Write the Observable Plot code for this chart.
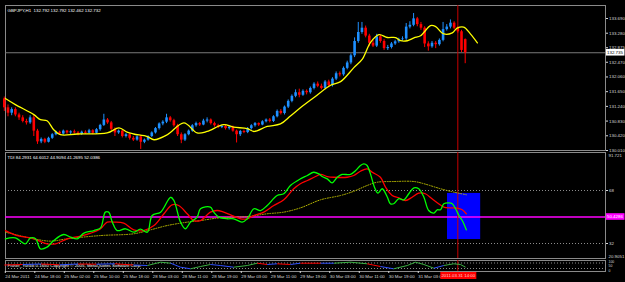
<!DOCTYPE html>
<html><head><meta charset="utf-8">
<script src="https://cdn.jsdelivr.net/npm/d3@7"></script>
<script src="https://cdn.jsdelivr.net/npm/@observablehq/plot@0.6"></script>
<style>
html,body{margin:0;padding:0;background:#000;}
#chart{position:relative;width:625px;height:282px;background:#000;overflow:hidden;}
#chart svg{position:absolute;left:0;top:0;}
</style></head><body><div id="chart"></div>
<script>
// ---------- DATA ----------
const symbolHeader = "GBPJPY,H1  132.792 132.792 132.462 132.732";
const tdiHeader = "TDI 84.2931 64.6012 44.9094 41.2695 52.0386";
const fishHeader = "Fisher_Yur4ik 0.1650 Copyright \u00a9 2005, MetaQuotes Software Corp.";

const openP = [131.45,131.20,131.05,131.15,131.00,130.92,130.82,130.78,130.92,130.55,130.25,130.32,130.24,130.35,130.45,130.52,130.47,130.55,130.50,130.53,130.50,130.46,130.52,130.49,130.56,130.49,130.59,130.71,130.86,130.78,130.60,130.50,130.55,130.40,130.45,130.35,130.30,130.39,130.24,130.30,130.40,130.50,130.62,130.75,130.80,130.92,130.84,130.70,130.45,130.30,130.45,130.55,130.70,130.76,130.72,130.83,130.86,130.76,130.70,130.65,130.68,130.62,130.66,130.55,130.45,130.54,130.51,130.62,130.70,130.76,130.72,130.81,130.86,130.82,130.95,131.10,131.04,131.22,131.38,131.52,131.62,131.55,131.66,131.62,131.74,131.86,131.80,131.74,131.92,131.82,132.00,132.15,132.12,132.30,132.45,132.65,133.05,133.30,133.42,133.20,133.00,132.92,133.18,133.05,132.85,132.88,132.98,133.04,133.10,133.12,133.45,133.50,133.68,133.52,133.42,132.98,132.90,133.00,132.96,133.08,133.38,133.45,133.56,133.42,133.32,133.10];
const highP = [131.50,131.28,131.20,131.20,131.05,130.98,130.88,130.98,130.98,130.60,130.36,130.35,130.38,130.48,130.55,130.55,130.58,130.57,130.56,130.58,130.54,130.55,130.56,130.60,130.59,130.62,130.74,131.02,130.90,130.82,130.64,130.58,130.58,130.48,130.48,130.40,130.42,130.42,130.33,130.42,130.53,130.65,130.78,130.84,131.02,130.96,130.88,130.74,130.50,130.48,130.58,130.73,130.80,130.79,130.88,130.92,130.89,130.80,130.74,130.71,130.72,130.68,130.69,130.58,130.57,130.58,130.65,130.73,130.79,130.78,130.84,130.89,130.90,130.98,131.14,131.15,131.25,131.42,131.56,131.70,131.72,131.70,131.70,131.78,131.90,131.92,131.86,131.96,131.97,132.04,132.20,132.20,132.34,132.50,132.70,133.15,133.58,133.58,133.48,133.25,133.08,133.25,133.22,133.10,132.94,133.02,133.08,133.14,133.18,133.55,133.60,133.83,133.72,133.58,133.46,133.04,133.05,133.05,133.12,133.58,133.52,133.65,133.60,133.46,133.36,133.12];
const lowP = [131.10,130.95,130.98,130.95,130.85,130.78,130.72,130.74,130.40,130.18,130.20,130.20,130.22,130.32,130.42,130.44,130.44,130.46,130.45,130.47,130.42,130.43,130.46,130.47,130.45,130.46,130.55,130.68,130.74,130.56,130.40,130.46,130.36,130.36,130.30,130.26,130.27,130.04,130.20,130.27,130.37,130.47,130.58,130.70,130.76,130.80,130.66,130.40,130.20,130.26,130.42,130.52,130.66,130.68,130.70,130.78,130.72,130.66,130.62,130.62,130.58,130.58,130.52,130.22,130.40,130.48,130.48,130.58,130.66,130.68,130.70,130.78,130.78,130.79,130.92,131.00,131.00,131.18,131.34,131.48,131.48,131.52,131.56,131.58,131.70,131.76,131.70,131.70,131.76,131.78,131.96,132.06,132.08,132.26,132.40,132.60,133.00,133.25,133.15,132.90,132.88,132.88,133.00,132.80,132.80,132.84,132.94,133.00,133.06,133.08,133.40,133.46,133.46,133.36,132.88,132.78,132.86,132.85,132.92,133.04,133.34,133.40,133.38,133.28,132.74,132.43];
const closeP = [131.20,131.05,131.15,131.00,130.92,130.82,130.78,130.92,130.55,130.25,130.32,130.24,130.35,130.45,130.52,130.47,130.55,130.50,130.53,130.50,130.46,130.52,130.49,130.56,130.49,130.59,130.71,130.86,130.78,130.60,130.50,130.55,130.40,130.45,130.35,130.30,130.39,130.24,130.30,130.40,130.50,130.62,130.75,130.80,130.92,130.84,130.70,130.45,130.30,130.45,130.55,130.70,130.76,130.72,130.83,130.86,130.76,130.70,130.65,130.68,130.62,130.66,130.55,130.45,130.54,130.51,130.62,130.70,130.76,130.72,130.81,130.86,130.82,130.95,131.10,131.04,131.22,131.38,131.52,131.62,131.55,131.66,131.62,131.74,131.86,131.80,131.74,131.92,131.82,132.00,132.15,132.12,132.30,132.45,132.65,133.05,133.30,133.42,133.20,133.00,132.92,133.18,133.05,132.85,132.88,132.98,133.04,133.10,133.12,133.45,133.50,133.68,133.52,133.42,132.98,132.90,133.00,132.96,133.08,133.38,133.45,133.56,133.42,133.32,132.80,132.73];

// moving average (yellow), read at bar positions
const maIdx = [0.3,3.0,8.0,9.8,11.6,13.4,15.2,19.8,27.9,31.1,33.3,35.1,38.8,40.6,44.2,48.7,52.3,55.0,59.5,62.2,65.9,67.7,71.3,74.9,77.6,80.3,83.9,88.5,91.2,94.8,97.1,99.3,101.6,103.9,106.1,107.5,109.3,111.1,112.9,115.6,116.9,119.2,121.5,122.8,124.6,126.4,128.3];
const maVal = [131.46,131.29,131.01,130.87,130.84,130.59,130.45,130.47,130.50,130.64,130.52,130.47,130.40,130.31,130.45,130.78,130.50,130.54,130.73,130.66,130.62,130.54,130.68,130.75,130.97,131.20,131.48,131.83,131.93,132.32,132.56,133.02,133.24,133.16,133.16,133.07,133.07,133.15,133.21,133.49,133.47,133.26,133.29,133.42,133.45,133.26,133.01];

const priceTicks = [133.690,133.280,132.875,132.470,132.060,131.650,131.240,130.830,130.420,130.010];
const bidPrice = 132.735, bidLabel = "132.735";

// TDI
const greenIdx = [0.3,3.0,5.7,7.1,8.5,9.8,11.6,13.4,16.1,18.0,19.8,21.6,24.3,26.1,27.4,28.3,29.3,30.6,32.9,35.1,36.9,38.8,40.1,42.4,45.1,46.0,47.8,49.1,50.5,52.3,53.2,55.9,56.8,58.2,60.5,62.2,64.5,65.9,67.7,69.5,71.3,74.0,75.8,77.6,80.3,82.2,83.9,85.3,86.2,87.6,88.9,90.3,91.6,93.9,95.3,96.6,97.5,98.4,99.3,100.4,101.3,102.5,103.9,104.7,105.6,107.0,108.4,109.7,111.1,112.4,113.8,115.1,116.5,117.4,118.3,119.2,120.6,121.5,122.4,123.3,124.2,125.3];
const greenVal = [35.2,35.8,31.8,35.8,35.2,28.4,29.5,34.0,38.1,36.3,35.2,39.0,40.8,42.6,53.3,53.3,46.5,40.8,42.0,39.7,41.7,39.7,51.0,53.3,63.4,61.2,46.5,42.0,46.5,49.9,55.6,56.7,53.3,49.9,48.8,48.8,46.5,48.8,55.6,54.4,57.8,64.6,65.8,71.4,75.9,78.2,80.4,79.3,77.5,75.9,73.2,77.0,78.9,78.9,81.6,85.0,86.1,85.0,79.3,70.2,66.2,69.2,63.4,59.0,59.0,62.4,61.7,65.8,69.8,69.2,63.4,54.4,52.6,54.9,54.9,59.0,59.6,59.0,55.6,51.0,47.6,41.3];
const redIdx = [0.3,3.5,8.0,11.6,13.9,17.1,20.7,23.4,26.1,27.9,29.7,32.4,35.1,37.8,40.6,43.3,45.5,47.3,49.6,51.4,53.2,55.9,57.7,59.5,62.2,64.1,65.9,67.7,70.4,73.1,75.8,78.5,80.3,82.2,84.4,85.8,87.6,89.4,93.0,94.8,96.6,98.4,99.8,102.0,103.4,105.2,107.0,108.8,110.6,112.4,114.2,116.0,117.8,119.2,121.0,122.8,124.2,125.3];
const redVal = [40.8,37.4,35.2,31.8,31.8,35.2,37.0,39.0,42.0,46.5,46.5,45.8,41.3,40.8,44.2,52.2,58.3,57.8,52.2,47.6,47.6,53.3,54.4,53.3,50.6,48.8,48.8,51.0,53.3,57.8,61.7,69.2,72.6,74.8,77.5,78.9,77.5,77.0,77.0,78.2,81.1,82.7,80.4,77.0,70.2,64.6,63.0,61.2,63.4,66.2,65.8,62.4,59.0,56.7,56.2,56.0,54.9,52.2];
const baseIdx = [0.3,8.0,12.5,17.1,26.1,35.1,39.7,44.2,49.6,53.2,58.6,65.9,71.3,75.8,80.3,85.8,91.2,94.8,98.4,101.1,105.6,111.1,113.8,118.3,121.9,125.3];
const baseVal = [39.7,35.2,33.6,35.2,37.4,38.6,41.3,44.2,46.5,47.6,49.5,50.3,52.2,53.3,56.2,61.7,64.6,67.5,71.4,73.6,74.1,74.1,72.6,69.2,66.9,65.1];
const tdiLevels = [68, 32];
const tdiMid = 50, tdiMidLabel = "50.4286";
const tdiMax = "91.721", tdiMin = "20.9051";
const boxT = [120.2, 129.2], boxV = [66.0, 34.7];

// lower oscillator
const fishIdx = [0,5,10,15,20,25,30,35,38.8,42.4,45.1,47.8,50.5,53.2,55.9,58.6,62.2,65.9,68.6,71.3,74.0,77.6,80.3,85.8,89.4,93.9,98.4,102.0,105.6,109.3,111.5,113.8,116.5,119.2,121.9,123.7,125.1];
const fishVal = [60,65,70,62,70,68,72,60,55,88,78,38,22,45,65,55,38,55,78,65,72,65,78,78,78,88,72,45,22,55,88,65,28,55,72,65,38];
const fishCol = ["#ff0000","#3050ff","#ff0000","#3050ff","#ff0000","#3050ff","#ff0000","#3050ff","#3cb043","#3cb043","#3050ff","#3050ff","#3cb043","#3cb043","#3050ff","#3050ff","#3cb043","#3cb043","#ff0000","#3050ff","#ff0000","#3050ff","#ff0000","#3050ff","#3cb043","#3cb043","#ff0000","#3050ff","#3cb043","#3cb043","#3cb043","#3cb043","#3050ff","#3cb043","#3cb043","#3cb043"];
const fishLevels = [80, 25];
const fishTop = "100", fishMid = "50", fishBot = "0";

// time axis
const timeTickIdx = [0,8,16,24,32,40,48,56,64,72,80,88,96,104,112];
const timeTickLab = ["24 Mar 2011","24 Mar 18:00","25 Mar 02:00","25 Mar 10:00","25 Mar 18:00","28 Mar 03:00","28 Mar 11:00","28 Mar 19:00","29 Mar 03:00","29 Mar 11:00","29 Mar 19:00","30 Mar 03:00","30 Mar 11:00","30 Mar 19:00","31 Mar 03:00"];
const cursorIdx = 123, cursorLabel = "2011.03.31 14:00";

// ---------- DRAWING ----------
const FONT = "'Liberation Sans', Arial, sans-serif";
const FS = 4.4;
const W = 625, H = 282;
const N = closeP.length;
const FRAME = "#8a8a8a", TXT = "#d8d8d8";
const UP = "#1e90ff", DN = "#ff0000";
const VRED = "#c80000";
const candles = closeP.map((c, i) => ({i, o: openP[i], h: highP[i], l: lowP[i], c, col: c >= openP[i] ? UP : DN}));
const xs = {type: "linear", domain: [0, N - 1], range: [3.8, 464.7], axis: null};

function findArgs(args) {
  const a = Array.from(args);
  const scales = a.find(o => o && typeof o === "object" && typeof o.y === "function") || a.find(o => o && typeof o.x === "function");
  const dims = a.find(o => o && typeof o === "object" && "marginRight" in o && "width" in o);
  return {scales, dims};
}
function yTag(value, label, bg, fg) {
  return function () {
    const {scales, dims} = findArgs(arguments);
    const y = scales.y(value), x = dims.width - dims.marginRight + 1;
    const g = d3.create("svg:g");
    g.append("rect").attr("x", x).attr("y", y - 3.3).attr("width", 18.5).attr("height", 6.6).attr("fill", bg);
    g.append("text").attr("x", x + 1).attr("y", y).attr("dy", "0.36em").attr("text-anchor", "start").attr("fill", fg)
      .attr("font-size", FS).attr("font-family", FONT).text(label);
    return g.node();
  };
}
function xTag(value, label, bg, fg) {
  return function () {
    const {scales, dims} = findArgs(arguments);
    const x = scales.x(value), y = dims.height - dims.marginBottom + 1;
    const g = d3.create("svg:g");
    g.append("rect").attr("x", x - 17).attr("y", y).attr("width", 36).attr("height", 7).attr("fill", bg);
    g.append("text").attr("x", x + 1).attr("y", y + 3.6).attr("dy", "0.36em").attr("text-anchor", "middle")
      .attr("fill", fg).attr("font-size", FS).attr("font-family", FONT).text(label);
    return g.node();
  };
}

function panel(top, bottom, y, marks) {
  return Plot.plot({
    width: W, height: H,
    marginLeft: 5, marginRight: 20, marginTop: top, marginBottom: H - bottom,
    x: xs, y: {...y, axis: null},
    style: {background: "transparent", overflow: "visible", fontFamily: FONT, fontSize: FS + "px", color: TXT},
    marks
  });
}

const root = document.getElementById("chart");

// main price panel
const mainP = panel(5, 150, {type: "linear", domain: [130.010, 133.690], range: [150, 18]}, [
  Plot.frame({stroke: FRAME}),
  Plot.ruleY([bidPrice], {stroke: "#7a7a7a", strokeWidth: 1}),
  Plot.ruleX([cursorIdx], {stroke: VRED, strokeWidth: 1}),
  Plot.ruleX(candles, {x: "i", y1: "l", y2: "h", stroke: "col", strokeWidth: 1}),
  Plot.ruleX(candles, {x: "i", y1: "o", y2: "c", stroke: "col", strokeWidth: 2.6}),
  Plot.line(maIdx.map((d, k) => ({i: d, v: maVal[k]})), {x: "i", y: "v", stroke: "#ffff00", strokeWidth: 1.3, curve: "catmull-rom"}),
  Plot.axisY({anchor: "right", ticks: priceTicks, tickFormat: d => d.toFixed(3), tickSize: 2, tickPadding: 1.5, color: TXT, fontSize: FS}),
  yTag(bidPrice, bidLabel, "#ffffff", "#000000"),
  Plot.text([symbolHeader], {frameAnchor: "top-left", dx: 2, dy: 3, textAnchor: "start", lineAnchor: "top", fill: "#ffffff", fontSize: FS})
]);
root.appendChild(mainP);

// TDI panel
const tdiP = panel(152, 258, {type: "linear", domain: [32, 68], range: [243, 190]}, [
  Plot.frame({stroke: FRAME}),
  Plot.rect([{x1: boxT[0], x2: boxT[1], y1: boxV[0], y2: boxV[1]}], {x1: "x1", x2: "x2", y1: "y1", y2: "y2", fill: "#0000ff"}),
  Plot.ruleY(tdiLevels, {stroke: "#8c8c8c", strokeDasharray: "1,2", strokeWidth: 1}),
  Plot.ruleY([tdiMid], {stroke: "#ff00ff", strokeWidth: 1.6}),
  Plot.ruleX([cursorIdx], {stroke: VRED, strokeWidth: 1}),
  Plot.line(baseIdx.map((d, k) => ({i: d, v: baseVal[k]})), {x: "i", y: "v", stroke: "#b8b800", strokeWidth: 1, strokeDasharray: "1,1.5", curve: "catmull-rom"}),
  Plot.line(redIdx.map((d, k) => ({i: d, v: redVal[k]})), {x: "i", y: "v", stroke: "#ff0000", strokeWidth: 1.3, curve: "catmull-rom"}),
  Plot.line(greenIdx.map((d, k) => ({i: d, v: greenVal[k]})), {x: "i", y: "v", stroke: "#00ff00", strokeWidth: 1.3, curve: "catmull-rom"}),
  Plot.axisY({anchor: "right", ticks: tdiLevels, tickFormat: d => String(d), tickSize: 2, tickPadding: 1.5, color: TXT, fontSize: FS}),
  Plot.text([tdiMax], {frameAnchor: "top-right", dx: 3, dy: 1, textAnchor: "start", lineAnchor: "top", fill: TXT, fontSize: FS}),
  Plot.text([tdiMin], {frameAnchor: "bottom-right", dx: 3, dy: -0.5, textAnchor: "start", lineAnchor: "bottom", fill: TXT, fontSize: FS}),
  yTag(tdiMid, tdiMidLabel, "#ff00ff", "#ffffff"),
  Plot.text([tdiHeader], {frameAnchor: "top-left", dx: 2, dy: 3, textAnchor: "start", lineAnchor: "top", fill: "#ffffff", fontSize: FS})
]);
root.appendChild(tdiP);

// lower oscillator panel + time axis
const fishSeg = fishIdx.slice(0, -1).map((d, k) => ({x1: d, y1: fishVal[k], x2: fishIdx[k + 1], y2: fishVal[k + 1], c: fishCol[k]}));
const tickMap = new Map(timeTickIdx.map((d, k) => [d, timeTickLab[k]]));
const fishP = panel(260, 271, {type: "linear", domain: [0, 100], range: [270.5, 260.5]}, [
  Plot.frame({stroke: FRAME}),
  Plot.ruleY(fishLevels, {stroke: "#8c8c8c", strokeDasharray: "1,2", strokeWidth: 1}),
  Plot.ruleX([cursorIdx], {stroke: VRED, strokeWidth: 1}),
  Plot.text([fishHeader], {frameAnchor: "left", dx: 2, textAnchor: "start", fill: "#ffffff", fontSize: FS}),
  Plot.link(fishSeg, {x1: "x1", y1: "y1", x2: "x2", y2: "y2", stroke: "c", strokeWidth: 1}),
  Plot.text([fishTop], {frameAnchor: "top-right", dx: 3, dy: 0, textAnchor: "start", lineAnchor: "top", fill: TXT, fontSize: 3.4}),
  Plot.text([fishMid], {frameAnchor: "right", dx: 3, textAnchor: "start", fill: TXT, fontSize: 3.4}),
  Plot.text([fishBot], {frameAnchor: "bottom-right", dx: 3, dy: 0, textAnchor: "start", lineAnchor: "bottom", fill: TXT, fontSize: 3.4}),
  Plot.axisX({anchor: "bottom", ticks: timeTickIdx, tickFormat: d => tickMap.get(d), tickSize: 2, tickPadding: 1, textAnchor: "start", dx: 1, color: TXT, fontSize: FS}),
  xTag(cursorIdx, cursorLabel, "#ff0000", "#ffd0d0")
]);
root.appendChild(fishP);
</script></body></html>
